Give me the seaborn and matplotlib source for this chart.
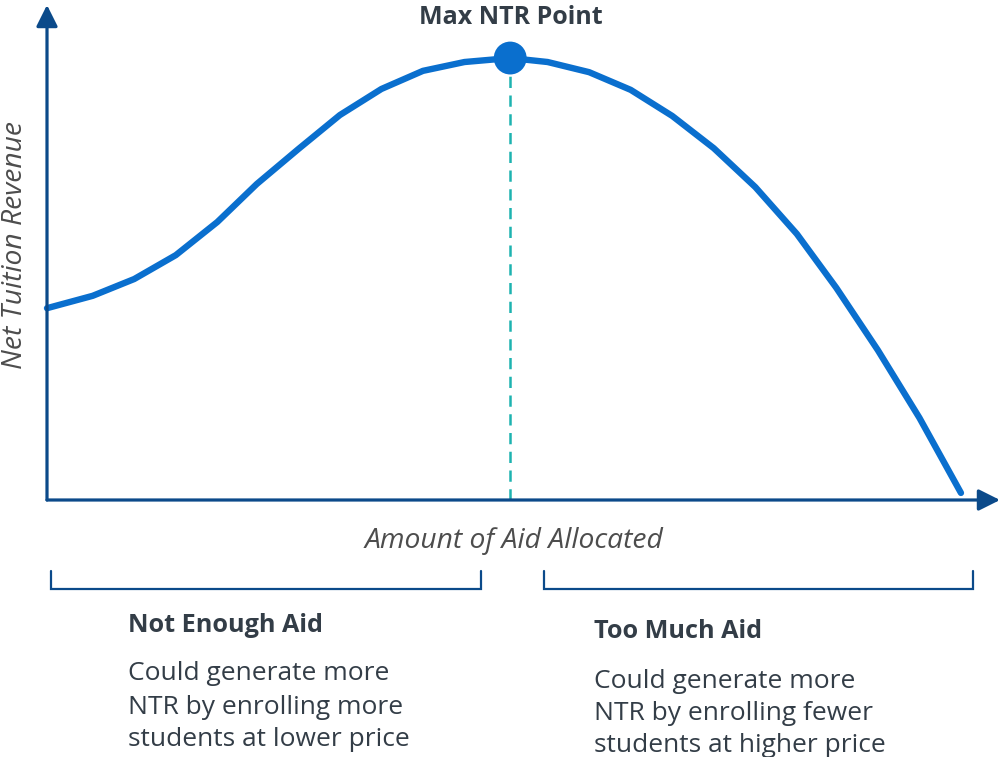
import numpy as np
import pandas as pd
import matplotlib
matplotlib.use("Agg")
import matplotlib.pyplot as plt
import seaborn as sns
from matplotlib.lines import Line2D

# Data (arbitrary units)
aid = [0.0, 1.1, 2.1, 3.1, 4.1, 5.05, 6.05, 7.05, 8.05, 9.05, 10.05, 11.15,
       12.05, 13.05, 14.05, 15.05, 16.05, 17.05, 18.05, 19.0, 20.0, 21.0, 22.0]
revenue = [43.4, 46.2, 50.0, 55.4, 62.9, 71.5, 79.4, 87.1, 93.0, 97.1, 99.1, 100.0,
           99.1, 96.8, 92.8, 86.9, 79.6, 70.8, 60.2, 48.0, 33.9, 18.6, 1.6]

x_label = "Amount of Aid Allocated"
y_label = "Net Tuition Revenue"
peak_label = "Max NTR Point"
left_head = "Not Enough Aid"
left_body = ["Could generate more", "NTR by enrolling more", "students at lower price"]
right_head = "Too Much Aid"
right_body = ["Could generate more", "NTR by enrolling fewer", "students at higher price"]

CURVE = "#0a6fce"
AXIS = "#0b4a8a"
TEAL = "#1db3b0"
TEXT = "#333d47"
LABEL = "#4d4d4d"

W, H = 1001, 757

sns.set_theme(style="white")
plt.rcParams["font.family"] = ["Open Sans", "DejaVu Sans"]

fig = plt.figure(figsize=(W / 100, H / 100), dpi=100)
ax = fig.add_axes([47 / W, 1 - 500 / H, (1000 - 47) / W, (500 - 5) / H])
ax.set_xlim(0, 22.94)
ax.set_ylim(0, 112)
for s in ax.spines.values():
    s.set_visible(False)
ax.set_xticks([])
ax.set_yticks([])

df = pd.DataFrame({"aid": aid, "revenue": revenue})
peak = int(np.argmax(revenue))

ax.vlines(aid[peak], 0, revenue[peak], colors=TEAL, linewidth=1.8,
          linestyles=(0, (4.5, 3)), zorder=2)
sns.lineplot(data=df, x="aid", y="revenue", ax=ax, color=CURVE, linewidth=4.6,
             solid_capstyle="round", solid_joinstyle="round", zorder=3, clip_on=False)
sns.scatterplot(x=[aid[peak]], y=[revenue[peak]], ax=ax, s=560, color=CURVE,
                edgecolor="none", zorder=4, clip_on=False)
ax.set_xlabel("")
ax.set_ylabel("")

# axis arrows
arrow = dict(arrowstyle="-|>,head_length=1.0,head_width=0.5", color=AXIS, lw=2.3,
             mutation_scale=13, shrinkA=0, shrinkB=0)
ax.annotate("", xy=(1, 0), xytext=(0, 0), xycoords="axes fraction", arrowprops=arrow)
ax.annotate("", xy=(0, 1), xytext=(0, 0), xycoords="axes fraction", arrowprops=arrow)


def px(x, y):
    return x / W, 1 - y / H


fig.text(*px(511, 17), peak_label, ha="center", va="center", fontsize=18,
         fontweight="bold", color=TEXT)
fig.text(*px(15, 245), y_label, ha="center", va="center", rotation=90, fontsize=20.3,
         style="italic", color=LABEL)
fig.text(*px(514, 541), x_label, ha="center", va="center", fontsize=20.3,
         style="italic", color=LABEL)

# brackets
for x0, x1 in [(51, 481), (544, 973)]:
    xs = [x0, x0, x1, x1]
    ys = [571, 589, 589, 571]
    pts = [px(a, b) for a, b in zip(xs, ys)]
    fig.add_artist(Line2D([p[0] for p in pts], [p[1] for p in pts], color=AXIS,
                          lw=1.6, solid_joinstyle="miter", transform=fig.transFigure))

fig.text(*px(128, 625), left_head, ha="left", va="center", fontsize=18.2,
         fontweight="bold", color=TEXT)
for i, line in enumerate(left_body):
    fig.text(*px(128, 674 + 33 * i), line, ha="left", va="center", fontsize=19,
             color=TEXT)
fig.text(*px(594, 632), right_head, ha="left", va="center", fontsize=18.2,
         fontweight="bold", color=TEXT)
for i, line in enumerate(right_body):
    fig.text(*px(594, 681 + 32.5 * i), line, ha="left", va="center", fontsize=19,
             color=TEXT)

fig.savefig("out.png", dpi=100, facecolor="white")
